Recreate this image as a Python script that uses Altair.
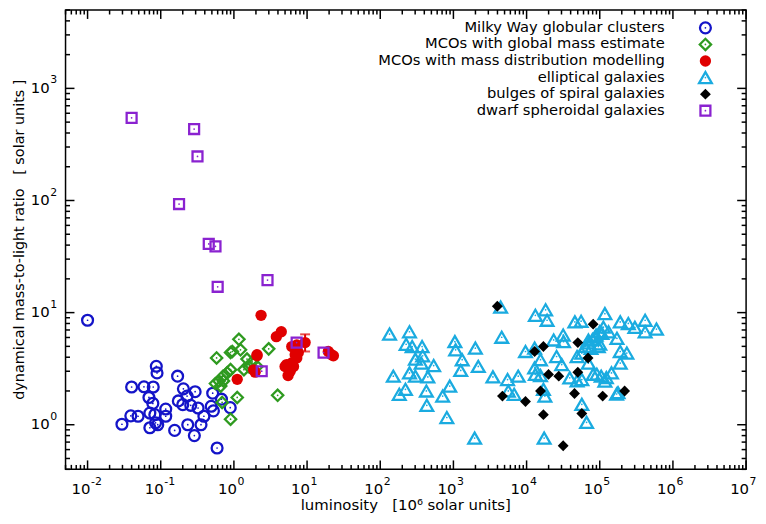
import altair as alt
import pandas as pd

# ---------------- data ----------------
gc_x = [0.010, 0.0295, 0.039, 0.040, 0.049, 0.059, 0.069, 0.079, 0.078, 0.071, 0.071, 0.085, 0.091,
        0.087, 0.089, 0.117, 0.117, 0.083, 0.155, 0.170, 0.174, 0.204, 0.229, 0.234, 0.257, 0.288,
        0.295, 0.324, 0.355, 0.389, 0.490, 0.513, 0.525, 0.589, 0.676, 0.891, 0.20]
gc_y = [8.55, 1.01, 1.20, 2.17, 1.19, 2.18, 1.75, 2.17, 1.55, 1.27, 0.94, 1.04, 1.00,
        3.32, 2.90, 1.38, 1.19, 1.23, 0.89, 2.71, 1.63, 2.09, 1.80, 1.00, 1.49, 0.80,
        1.97, 1.41, 1.00, 1.19, 1.46, 1.91, 1.33, 0.62, 1.69, 1.42, 1.51]

gme_x = [1.17, 0.90, 1.23, 0.58, 1.51, 2.99, 0.90, 0.81, 1.37, 0.71, 0.625, 0.56, 0.66,
         1.11, 0.69, 0.90, 3.96, 2.07, 0.95, 0.72, 1.62, 1.78]
gme_y = [5.78, 4.41, 4.66, 3.94, 3.85, 4.75, 3.10, 2.90, 3.10, 2.71, 2.45, 2.33, 2.21,
         1.75, 1.58, 1.12, 1.83, 3.31, 4.50, 2.46, 3.28, 3.63]

mdm_x = [2.35, 4.44, 3.80, 2.07, 1.11, 9.40, 6.17, 7.24, 5.25, 5.89, 22.9, 19.5, 1.86, 1.95,
         7.59, 6.53, 5.50, 5.00, 6.90, 7.24, 6.87, 6.17, 5.56, 2.07, 21.6]
mdm_y = [9.46, 6.75, 6.10, 4.12, 2.54, 5.40, 4.98, 3.94, 3.44, 3.00, 4.12, 4.50, 3.09, 2.94,
         4.41, 3.31, 2.75, 3.30, 5.00, 5.15, 4.21, 3.56, 3.31, 4.21, 4.21]
err_x = [9.40]
err_lo = [4.5]
err_hi = [6.4]

ell_x = [134, 251, 226, 273, 373, 302, 380, 363, 537, 251, 151, 302, 447, 221, 182, 427, 713, 891,
         433, 813, 1047, 1072, 1318, 1995, 1259, 2188, 1950, 4571, 4416, 3467, 5495, 7691, 5623,
         6761, 9660, 13183, 18197, 19055, 12882, 15488, 12882, 13183, 15488, 23442, 31623, 31989,
         25704, 30200, 38905, 17783, 16982, 17378, 56885, 66069, 45709, 55590, 117490, 69984,
         87096, 107152, 131826, 190546, 245471, 416869, 595662, 301995, 416869, 171791, 56885,
         48978, 95499, 190546, 234423, 190546, 69984, 81283, 104713, 144544, 117490, 177828,
         56885, 63096, 70795, 79433, 89125, 100000, 112202, 75858, 100000, 169824, 49000, 91201,
         123027]
ell_y = [6.44, 6.75, 5.22, 4.98, 4.98, 3.85, 4.12, 3.55, 3.37, 2.90, 2.71, 2.71, 2.67, 2.07, 1.87,
         2.00, 1.80, 2.21, 1.49, 1.16, 5.51, 4.66, 3.80, 4.82, 3.05, 3.31, 0.76, 6.03, 11.2, 2.67,
         2.53, 2.71, 2.00, 1.87, 4.50, 9.46, 10.6, 8.55, 4.82, 3.80, 3.21, 2.81, 2.75, 5.70, 6.31,
         5.51, 4.06, 3.44, 2.62, 1.80, 2.07, 0.76, 1.52, 1.05, 8.26, 8.38, 9.79, 5.70, 6.10, 6.53,
         6.75, 8.26, 8.00, 8.55, 7.13, 7.38, 6.75, 5.90, 4.36, 4.06, 4.98, 4.50, 4.36, 3.55, 3.55,
         2.81, 2.71, 2.90, 2.45, 1.93, 2.53, 5.01, 5.37, 5.75, 6.31, 6.76, 7.41, 4.79, 5.25, 1.88,
         2.46, 2.82, 2.63]

bul_x = [3981, 81283, 16982, 12882, 50119, 69183, 19953, 27542, 50119, 4677, 9660, 15488, 45186,
         109648, 218776, 16982, 56885, 31623]
bul_y = [11.4, 7.89, 4.98, 4.50, 5.40, 3.94, 2.81, 2.71, 2.94, 1.80, 1.61, 2.00, 1.90,
         1.80, 2.00, 1.23, 1.26, 0.65]

dsph_x = [0.040, 0.286, 0.318, 0.178, 0.453, 0.56, 0.60, 2.88, 7.2, 16.8, 2.4]
dsph_y = [546, 434, 247, 93, 41, 39, 17, 19.5, 5.4, 4.4, 3.0]

series_names = ["Milky Way globular clusters", "MCOs with global mass estimate",
                "MCOs with mass distribution modelling", "elliptical galaxies",
                "bulges of spiral galaxies", "dwarf spheroidal galaxies"]

x_tick_values = [0.01, 0.1, 1, 10, 100, 1000, 1e4, 1e5, 1e6, 1e7]
x_tick_exps = ["-2", "-1", "0", "1", "2", "3", "4", "5", "6", "7"]
y_tick_values = [1, 10, 100, 1000]
y_tick_exps = ["0", "1", "2", "3"]
x_title = "luminosity\u00a0\u00a0\u00a0[10⁶ solar units]"
y_title = "dynamical mass-to-light ratio\u00a0\u00a0\u00a0[ solar units ]"

# ---------------- styling ----------------
W, H = 686, 463
FONT = "DejaVu Sans"
styles = [
    dict(shape="circle", filled=False, color="#1414C8", size=120, dot=True),
    dict(shape="diamond", filled=False, color="#2E9A1F", size=130, dot=True),
    dict(shape="circle", filled=True, color="#E00000", size=130, dot=False),
    dict(shape="triangle-up", filled=False, color="#1AABE0", size=165, dot=True),
    dict(shape="diamond", filled=True, color="#000000", size=120, dot=False),
    dict(shape="square", filled=False, color="#8A22D0", size=100, dot=True),
]
datasets = [(gc_x, gc_y), (gme_x, gme_y), (mdm_x, mdm_y), (ell_x, ell_y), (bul_x, bul_y), (dsph_x, dsph_y)]

xscale = alt.Scale(type="log", domain=[0.005, 1e7], nice=False)
yscale = alt.Scale(type="log", domain=[0.4, 5000], nice=False)


def X(field="x"):
    return alt.X(f"{field}:Q", scale=xscale, axis=None)


def Y(field="y"):
    return alt.Y(f"{field}:Q", scale=yscale, axis=None)


layers = []
for (xs, ys), st, name in zip(datasets, styles, series_names):
    df = pd.DataFrame({"x": xs, "y": ys, "series": name})
    base = alt.Chart(df)
    if st["filled"]:
        m = base.mark_point(shape=st["shape"], filled=True, size=st["size"], color=st["color"], opacity=1)
    else:
        m = base.mark_point(shape=st["shape"], filled=False, size=st["size"], color=st["color"],
                            strokeWidth=2.3, opacity=1)
    layers.append(m.encode(x=X(), y=Y()))
    if st["dot"]:
        layers.append(base.mark_point(shape="circle", filled=True, size=3, color=st["color"], opacity=1)
                      .encode(x=X(), y=Y()))
    if name == "MCOs with mass distribution modelling":
        edf = pd.DataFrame({"x": err_x, "lo": err_lo, "hi": err_hi})
        layers.append(alt.Chart(edf).mark_rule(color=st["color"], strokeWidth=2)
                      .encode(x=X(), y=Y("lo"), y2="hi:Q"))
        layers.append(alt.Chart(edf).mark_tick(color=st["color"], orient="horizontal", size=10, thickness=2)
                      .encode(x=X(), y=Y("hi")))
        layers.append(alt.Chart(edf).mark_tick(color=st["color"], orient="horizontal", size=10, thickness=2)
                      .encode(x=X(), y=Y("lo")))

# inward ticks on all four sides
x_minor = [k * 10 ** d for d in range(-3, 7) for k in range(2, 10) if 0.005 <= k * 10 ** d <= 1e7]
y_minor = [k * 10 ** d for d in range(-1, 4) for k in range(2, 10) if 0.4 <= k * 10 ** d <= 5000]
TICK = dict(color="black", strokeWidth=1.5)
for vals, ln in [(x_tick_values, 9), (x_minor, 4.5)]:
    tdf = pd.DataFrame({"x": vals})
    layers.append(alt.Chart(tdf).mark_rule(**TICK).encode(x=X(), y=alt.value(H), y2=alt.value(H - ln)))
    layers.append(alt.Chart(tdf).mark_rule(**TICK).encode(x=X(), y=alt.value(0), y2=alt.value(ln)))
for vals, ln in [(y_tick_values, 9), (y_minor, 4.5)]:
    tdf = pd.DataFrame({"y": vals})
    layers.append(alt.Chart(tdf).mark_rule(**TICK).encode(y=Y(), x=alt.value(0), x2=alt.value(ln)))
    layers.append(alt.Chart(tdf).mark_rule(**TICK).encode(y=Y(), x=alt.value(W), x2=alt.value(W - ln)))

# tick labels: "10" with a raised exponent
xl = pd.DataFrame({"x": x_tick_values, "e": x_tick_exps, "b": ["10"] * len(x_tick_values)})
layers.append(alt.Chart(xl).mark_text(align="right", baseline="alphabetic", font=FONT, fontSize=15,
                                      color="black", dx=3)
              .encode(x=X(), y=alt.value(H + 24.5), text="b:N"))
layers.append(alt.Chart(xl).mark_text(align="left", baseline="alphabetic", font=FONT, fontSize=11,
                                      color="black", dx=3.5)
              .encode(x=X(), y=alt.value(H + 15.5), text="e:N"))
yl = pd.DataFrame({"y": y_tick_values, "e": y_tick_exps, "b": ["10"] * len(y_tick_values)})
layers.append(alt.Chart(yl).mark_text(align="right", baseline="alphabetic", font=FONT, fontSize=15,
                                      color="black", dy=4.5)
              .encode(y=Y(), x=alt.value(-16), text="b:N"))
layers.append(alt.Chart(yl).mark_text(align="left", baseline="alphabetic", font=FONT, fontSize=11,
                                      color="black", dy=-5)
              .encode(y=Y(), x=alt.value(-15.5), text="e:N"))

# axis titles
layers.append(alt.Chart(pd.DataFrame({"t": [x_title]})).mark_text(
    align="center", baseline="alphabetic", font=FONT, fontSize=15, color="black")
    .encode(x=alt.value(W / 2), y=alt.value(H + 41), text="t:N"))
layers.append(alt.Chart(pd.DataFrame({"t": [y_title]})).mark_text(
    align="center", baseline="middle", font=FONT, fontSize=14.5, color="black", angle=270)
    .encode(x=alt.value(-46), y=alt.value(H / 2), text="t:N"))

# legend (top-right, labels right-aligned, symbols to the right)
LX_SYM, LX_TXT, LY0, LDY = 645, 604, 18, 16.7
for i, (st, name) in enumerate(zip(styles, series_names)):
    ly = LY0 + i * LDY
    ldf = pd.DataFrame({"t": [name]})
    layers.append(alt.Chart(ldf).mark_text(align="right", baseline="middle", font=FONT, fontSize=14.8,
                                           color="black")
                  .encode(x=alt.value(LX_TXT), y=alt.value(ly), text="t:N"))
    if st["filled"]:
        sm = alt.Chart(ldf).mark_point(shape=st["shape"], filled=True, size=st["size"], color=st["color"], opacity=1)
    else:
        sm = alt.Chart(ldf).mark_point(shape=st["shape"], filled=False, size=st["size"], color=st["color"],
                                       strokeWidth=2.3, opacity=1)
    layers.append(sm.encode(x=alt.value(LX_SYM), y=alt.value(ly)))
    if st["dot"]:
        layers.append(alt.Chart(ldf).mark_point(shape="circle", filled=True, size=3, color=st["color"], opacity=1)
                      .encode(x=alt.value(LX_SYM), y=alt.value(ly)))

chart = alt.layer(*layers).properties(
    width=W, height=H,
    autosize=alt.AutoSizeParams(type="none"),
    padding={"left": 58, "top": 0, "right": 12, "bottom": 45},
    background="white",
).configure_view(stroke="black", strokeWidth=1.5)

chart.save("out.html", embed_options={"renderer": "svg", "actions": False})
